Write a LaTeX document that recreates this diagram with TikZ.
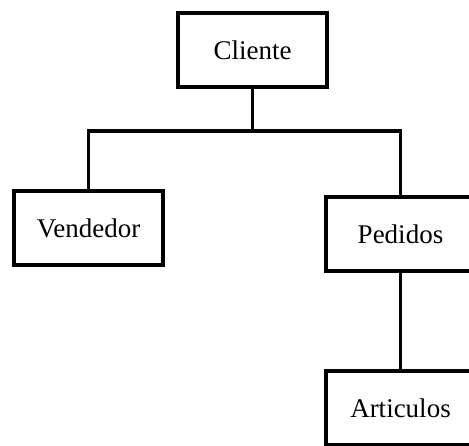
\documentclass[tikz,border=0pt]{standalone}
\usepackage{fontspec}
\setmainfont{Liberation Serif}

\begin{document}
\begin{tikzpicture}[x=1pt, y=-1pt]
        \tikzset{
            caja/.style={
                draw,
                line width=4pt,
                minimum width=149pt,
                minimum height=74pt,
                font=\fontsize{27pt}{32pt}\selectfont
            },
            linea/.style={
                line width=3.5pt
            }
        }
        \useasboundingbox (0,0) rectangle (469,446);
        \clip (0,0) rectangle (469,446);

        %cajas
        \node[caja] (cliente) at (252.5,50) {Cliente};
        \node[caja] (vendedor) at (88.5,228) {Vendedor};
        \node[caja] (pedidos) at (400.5,234.5) {Pedidos};
        \node[caja] (articulos) at (400.5,408.5) {Articulos};

        \coordinate (rama) at (252.5,131);

        %lineas
        \draw[linea] (cliente.south) -- (rama);
        \draw[linea] (rama) -| (vendedor.north);
        \draw[linea] (rama) -| (pedidos.north);
        \draw[linea] (pedidos.south) -- (articulos.north);
\end{tikzpicture}
\end{document}
